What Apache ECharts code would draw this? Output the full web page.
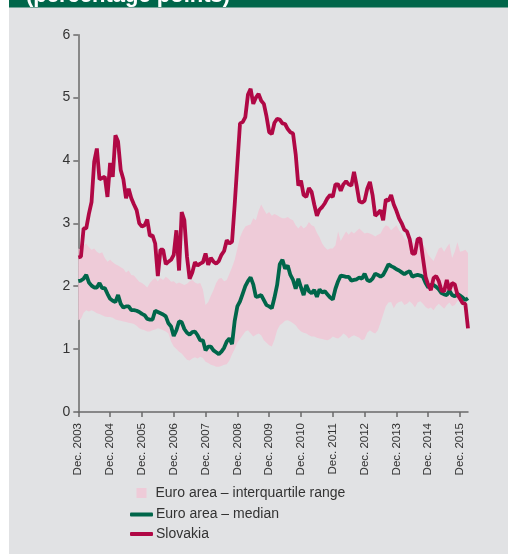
<!DOCTYPE html>
<html><head><meta charset="utf-8">
<script src="https://cdn.jsdelivr.net/npm/echarts@6/dist/echarts.min.js"></script>
<style>html,body{margin:0;padding:0;background:#fff;}#c{width:517px;height:554px;}</style>
</head><body><div id="c"></div>
<script>
// Monthly data, Dec. 2003 .. Mar. 2016 (148 months)
const startYear = 2003;
const tickYears = [2003,2004,2005,2006,2007,2008,2009,2010,2011,2012,2013,2014,2015];
const slovakia = [2.46,2.47,2.92,2.92,3.15,3.34,3.98,4.19,3.70,3.72,3.74,3.42,3.96,3.74,4.40,4.30,3.85,3.70,3.40,3.55,3.40,3.30,3.21,3.00,2.95,2.97,3.06,2.80,2.81,2.68,2.16,2.58,2.58,2.35,2.39,2.42,2.50,2.89,2.25,3.18,3.05,2.47,2.12,2.22,2.38,2.33,2.36,2.38,2.52,2.34,2.45,2.39,2.36,2.40,2.50,2.56,2.73,2.68,2.71,3.30,3.95,4.59,4.61,4.69,5.05,5.14,4.90,5.00,5.06,4.95,4.90,4.70,4.45,4.42,4.60,4.66,4.65,4.59,4.58,4.50,4.45,4.43,4.10,3.60,3.68,3.45,3.42,3.56,3.50,3.30,3.12,3.22,3.26,3.32,3.40,3.45,3.42,3.62,3.62,3.52,3.62,3.67,3.62,3.60,3.82,3.60,3.35,3.33,3.36,3.55,3.66,3.45,3.12,3.16,3.21,3.05,3.38,3.36,3.45,3.30,3.20,3.08,3.00,2.90,2.87,2.75,2.52,2.52,2.75,2.76,2.45,2.15,2.02,1.94,2.13,2.16,2.08,1.93,1.92,2.10,1.94,2.05,2.03,1.87,1.80,1.73,1.72,1.33];
const median = [2.08,2.09,2.12,2.18,2.06,2.01,1.98,1.98,2.05,1.97,1.97,1.88,1.80,1.77,1.75,1.86,1.72,1.66,1.68,1.68,1.62,1.62,1.61,1.59,1.56,1.54,1.48,1.47,1.47,1.61,1.59,1.57,1.55,1.52,1.41,1.36,1.21,1.30,1.44,1.43,1.32,1.26,1.23,1.27,1.28,1.22,1.14,1.14,0.98,1.04,1.04,0.98,0.95,0.92,0.96,1.02,1.12,1.17,1.08,1.45,1.68,1.76,1.88,2.00,2.08,2.14,2.03,1.83,1.84,1.86,1.78,1.70,1.68,1.65,1.82,2.02,2.35,2.42,2.28,2.33,2.18,2.10,1.96,2.12,1.98,1.86,2.02,1.92,1.89,1.94,1.83,1.95,1.90,1.92,1.87,1.82,1.79,1.96,2.08,2.17,2.16,2.15,2.15,2.09,2.10,2.11,2.14,2.12,2.20,2.10,2.08,2.12,2.20,2.18,2.15,2.18,2.26,2.35,2.32,2.30,2.27,2.25,2.22,2.19,2.22,2.24,2.15,2.17,2.18,2.17,2.15,2.05,1.98,2.02,2.02,1.99,1.95,1.89,1.87,1.86,1.93,1.86,1.84,1.88,1.85,1.82,1.78,1.81];
const q75 = [2.60,2.58,2.65,2.68,2.62,2.58,2.60,2.55,2.52,2.54,2.45,2.39,2.42,2.38,2.35,2.33,2.30,2.28,2.22,2.25,2.18,2.17,2.12,2.07,2.05,2.02,1.98,2.05,2.10,2.13,2.08,2.13,2.10,2.15,2.12,2.07,2.08,2.04,2.06,2.04,2.02,2.04,2.08,2.10,2.06,2.04,2.05,1.95,1.70,1.75,1.85,1.94,2.05,2.12,2.13,2.08,2.10,2.20,2.30,2.42,2.60,2.78,2.88,2.95,2.97,2.98,3.08,3.05,3.20,3.30,3.22,3.15,3.18,3.12,3.15,3.13,3.10,3.08,3.08,3.10,3.07,3.05,2.97,2.92,2.97,2.92,2.95,3.02,2.97,2.95,2.85,2.78,2.68,2.62,2.58,2.60,2.60,2.65,2.87,2.72,2.80,2.87,2.82,2.87,2.84,2.88,2.92,2.88,2.84,2.85,2.84,2.82,2.79,2.82,2.84,2.92,2.97,2.95,2.89,2.93,2.97,2.89,2.84,2.76,2.73,2.73,2.70,2.68,2.68,2.68,2.66,2.60,2.50,2.45,2.40,2.50,2.60,2.62,2.55,2.62,2.68,2.45,2.55,2.70,2.55,2.56,2.58,2.53];
const q25 = [1.46,1.48,1.58,1.62,1.60,1.62,1.60,1.57,1.56,1.54,1.52,1.51,1.51,1.50,1.47,1.46,1.45,1.44,1.43,1.42,1.41,1.40,1.37,1.33,1.31,1.30,1.28,1.28,1.30,1.31,1.33,1.32,1.30,1.28,1.25,1.12,1.04,1.00,0.96,0.93,0.88,0.83,0.82,0.85,0.87,0.85,0.88,0.86,0.80,0.78,0.75,0.74,0.72,0.72,0.73,0.75,0.76,0.82,0.92,1.00,1.10,1.16,1.22,1.28,1.30,1.25,1.20,1.23,1.25,1.22,1.14,1.10,1.06,1.04,1.15,1.30,1.38,1.41,1.45,1.46,1.44,1.41,1.38,1.32,1.28,1.26,1.25,1.22,1.20,1.20,1.18,1.17,1.16,1.15,1.14,1.16,1.20,1.18,1.17,1.20,1.25,1.22,1.17,1.20,1.22,1.20,1.18,1.14,1.16,1.26,1.30,1.27,1.25,1.30,1.42,1.55,1.68,1.74,1.75,1.65,1.72,1.75,1.76,1.70,1.72,1.76,1.72,1.66,1.74,1.76,1.72,1.67,1.64,1.66,1.62,1.68,1.72,1.68,1.64,1.70,1.74,1.68,1.70,1.76,1.78,1.75,1.77,1.80];
const yTicks = [0,1,2,3,4,5,6];
const names = ['Euro area – interquartile range','Euro area – median','Slovakia'];

const monthNames = ['Jan.','Feb.','Mar.','Apr.','May','Jun.','Jul.','Aug.','Sep.','Oct.','Nov.','Dec.'];
const categories = slovakia.map((_, i) => {
  const m = (11 + i) % 12;
  const y = startYear + Math.floor((11 + i) / 12);
  return monthNames[m] + ' ' + y;
});
const bandWidth = q75.map((v, i) => +(v - q25[i]).toFixed(3));

const FONT = '"Liberation Sans", Arial, sans-serif';
const chart = echarts.init(document.getElementById('c'), null, {renderer: 'canvas'});
const showIdx = (i) => i % 12 === 0;
chart.setOption({
  animation: false,
  backgroundColor: '#ffffff',
  graphic: [
    {type: 'rect', z: -10, shape: {x: 9, y: 0, width: 499, height: 554}, style: {fill: '#e1e2e4'}},
    {type: 'rect', z: -9, shape: {x: 9, y: 0, width: 499, height: 7.5}, style: {fill: '#00664a'}},
    {type: 'text', z: -8, x: 26, y: 6.5, style: {text: '(percentage points)', fill: '#ffffff', font: 'bold 22px ' + FONT, verticalAlign: 'bottom'}}
  ],
  grid: {left: 78.3, right: 49, top: 34.7, bottom: 142, containLabel: false},
  legend: [
    {
      data: [{name: names[0], icon: 'rect'}],
      orient: 'vertical', left: 131.5, top: 481, itemWidth: 10, itemHeight: 10,
      textStyle: {fontFamily: FONT, fontSize: 14, color: '#333', padding: [0, 0, 0, 4]},
      selectedMode: false
    },
    {
      data: [{name: names[1], icon: 'roundRect'}, {name: names[2], icon: 'roundRect'}],
      orient: 'vertical', left: 125, top: 502.5, itemWidth: 23, itemHeight: 4, itemGap: 5.5,
      textStyle: {fontFamily: FONT, fontSize: 14, color: '#333', padding: [0, 0, 0, -2]},
      selectedMode: false
    }
  ],
  xAxis: {
    type: 'category', data: categories, boundaryGap: false,
    axisLine: {lineStyle: {color: '#6a6a6a', width: 1.5}},
    axisTick: {show: true, interval: (i) => showIdx(i), length: 5, lineStyle: {color: '#6a6a6a', width: 1.5}},
    axisLabel: {interval: (i) => showIdx(i), rotate: 90, margin: 11, color: '#333', fontFamily: FONT, fontSize: 11.5,
      formatter: (v, i) => showIdx(i) ? 'Dec. ' + tickYears[i / 12] : ''},
    splitLine: {show: false}
  },
  yAxis: {
    type: 'value', min: 0, max: 6, interval: 1,
    axisLine: {show: true, lineStyle: {color: '#6a6a6a', width: 1.5}},
    axisTick: {show: true, length: 5, lineStyle: {color: '#6a6a6a', width: 1.5}},
    axisLabel: {margin: 8, color: '#333', fontFamily: FONT, fontSize: 14, formatter: (v) => yTicks.includes(v) ? String(v) : ''},
    splitLine: {show: false}
  },
  series: [
    {name: 'q25', type: 'line', stack: 'band', data: q25, symbol: 'none', lineStyle: {opacity: 0}, areaStyle: {opacity: 0}, silent: true, z: 1},
    {name: names[0], type: 'line', stack: 'band', data: bandWidth, symbol: 'none', color: '#eecbd8',
      lineStyle: {opacity: 0, width: 0}, areaStyle: {color: '#eecbd8', opacity: 1}, silent: true, z: 1},
    {name: names[1], type: 'line', data: median, symbol: 'none', color: '#00664a', lineStyle: {color: '#00664a', width: 3.8}, z: 3},
    {name: names[2], type: 'line', data: slovakia, symbol: 'none', color: '#b00845', lineStyle: {color: '#b00845', width: 3.8}, z: 4}
  ]
});
</script></body></html>
